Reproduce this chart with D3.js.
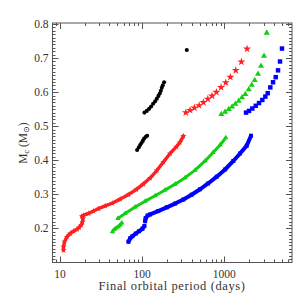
<!DOCTYPE html>
<html>
<head>
<meta charset="utf-8">
<script src="https://cdn.jsdelivr.net/npm/d3@7"></script>
<style>
body { margin: 0; background: #fff; }
</style>
</head>
<body>
<svg width="300" height="300"></svg>
<script>
// values: orbital period (days) and core mass (Msun)
var blackLowP = [86.9, 91.2, 94.6, 98.1, 102, 105.8, 110.9, 115.1];
var blackLowM = [0.430, 0.438, 0.445, 0.451, 0.457, 0.464, 0.469, 0.472];
var blackUpP = [106.6, 114, 121.6, 128.6, 136, 143.9, 151, 157.8, 164, 168.8, 173.5, 178.5, 185];
var blackUpM = [0.540, 0.545, 0.551, 0.558, 0.566, 0.573, 0.581, 0.589, 0.596, 0.604, 0.613, 0.620, 0.629];
var blackTopP = [349];
var blackTopM = [0.724];

var redLowAP = [11.06, 11.06, 11.37, 12.16, 13.34, 14.63, 16.1, 17.16, 18.15, 18.8, 19.04];
var redLowAM = [0.136, 0.146, 0.161, 0.175, 0.185, 0.192, 0.197, 0.203, 0.210, 0.219, 0.229];
var redLowBP = [18.5, 19.5, 22.3, 25.6, 29.4, 35.5, 43.2, 54, 67.6, 84.6, 102.8, 125, 150.9, 181.5, 218.8, 261.1, 287.1, 317.7];
var redLowBM = [0.236, 0.239, 0.244, 0.251, 0.258, 0.266, 0.274, 0.286, 0.299, 0.314, 0.330, 0.348, 0.370, 0.395, 0.420, 0.440, 0.452, 0.471];
var redUpP = [340, 383, 432, 493, 556, 629, 709, 800, 912, 1040, 1183, 1376, 1611, 1888];
var redUpM = [0.540, 0.547, 0.554, 0.561, 0.570, 0.580, 0.589, 0.600, 0.614, 0.628, 0.644, 0.664, 0.689, 0.727];

var greenLowAP = [43.6, 45.7, 48.3, 51.1, 54, 56.6];
var greenLowAM = [0.190, 0.197, 0.201, 0.205, 0.210, 0.216];
var greenLowBP = [50.7, 62.1, 82.2, 108.8, 143.9, 190.3, 251.8, 333, 440.5, 583, 729, 887, 1040];
var greenLowBM = [0.229, 0.244, 0.263, 0.280, 0.296, 0.313, 0.330, 0.349, 0.371, 0.398, 0.423, 0.445, 0.466];
var greenUpP = [919, 1020, 1131, 1241, 1360, 1496, 1641, 1799, 1979, 2153, 2340, 2567, 2793, 3037, 3275];
var greenUpM = [0.535, 0.542, 0.550, 0.557, 0.565, 0.574, 0.584, 0.594, 0.608, 0.621, 0.635, 0.653, 0.677, 0.706, 0.774];

var blueLowAP = [68.2, 71.5, 76.2, 83.8, 91.9, 100.8, 106.6];
var blueLowAM = [0.161, 0.171, 0.177, 0.185, 0.192, 0.199, 0.207];
var blueLowBP = [108.8, 110.3, 116.7, 125, 156.5, 199.5, 251.8, 317.7, 399.5, 506.7, 633.9, 808.7, 1020, 1285, 1551, 1871, 2110];
var blueLowBM = [0.221, 0.230, 0.238, 0.241, 0.251, 0.262, 0.273, 0.285, 0.299, 0.315, 0.332, 0.352, 0.373, 0.398, 0.420, 0.443, 0.472];
var blueUpP = [1835, 1995, 2188, 2407, 2640, 2895, 3150, 3367, 3622, 3906, 4212, 4493, 4750, 5024];
var blueUpM = [0.540, 0.545, 0.552, 0.560, 0.568, 0.577, 0.587, 0.597, 0.614, 0.629, 0.644, 0.664, 0.690, 0.728];

var xTickValues = [10, 100, 1000];
var yTickValues = [0.2, 0.3, 0.4, 0.5, 0.6, 0.7, 0.8];

var svg = d3.select('svg');
var plotLeft = 52.5, plotRight = 292, plotTop = 23, plotBottom = 262.5;

var x = d3.scaleLog().domain([8.13, 6646]).range([plotLeft, plotRight]);
var y = d3.scaleLinear().domain([0.1, 0.803]).range([plotBottom, plotTop]);

function pts(P, M) {
	return P.map(function(p, i) { return [p, M[i]]; });
}

var axisColor = '#555';
var fontFamily = '"Liberation Serif", "DejaVu Serif", serif';

// minor ticks
var xMinor = [];
[1, 10, 100, 1000].forEach(function(d) {
	for (var k = 2; k <= 9; k++) {
		var v = d * k;
		if (v > x.domain()[0] && v < x.domain()[1]) xMinor.push(v);
	}
});
var yMinor = d3.range(11, 80).map(function(d) { return d / 100; }).filter(function(v) { return Math.round(v * 100) % 10 != 0; });

var axes = svg.append('g').attr('stroke', axisColor).attr('stroke-width', 1);

// bottom and top ticks
xMinor.forEach(function(v) {
	var px = Math.round(x(v)) + 0.5;
	axes.append('line').attr('x1', px).attr('x2', px).attr('y1', plotBottom).attr('y2', plotBottom - 3);
	axes.append('line').attr('x1', px).attr('x2', px).attr('y1', plotTop).attr('y2', plotTop + 3);
});
xTickValues.forEach(function(v) {
	var px = Math.round(x(v)) + 0.5;
	axes.append('line').attr('x1', px).attr('x2', px).attr('y1', plotBottom).attr('y2', plotBottom - 6);
	axes.append('line').attr('x1', px).attr('x2', px).attr('y1', plotTop).attr('y2', plotTop + 6);
});
// left and right ticks
yMinor.forEach(function(v) {
	var py = Math.round(y(v)) + 0.5;
	axes.append('line').attr('x1', plotLeft).attr('x2', plotLeft + 3).attr('y1', py).attr('y2', py);
	axes.append('line').attr('x1', plotRight).attr('x2', plotRight - 3).attr('y1', py).attr('y2', py);
});
yTickValues.forEach(function(v) {
	var py = Math.round(y(v)) + 0.5;
	axes.append('line').attr('x1', plotLeft).attr('x2', plotLeft + 6).attr('y1', py).attr('y2', py);
	axes.append('line').attr('x1', plotRight).attr('x2', plotRight - 6).attr('y1', py).attr('y2', py);
});

axes.append('rect')
	.attr('x', plotLeft).attr('y', plotTop)
	.attr('width', plotRight - plotLeft).attr('height', plotBottom - plotTop)
	.attr('fill', 'none');

// tick labels
svg.append('g').selectAll('text').data(xTickValues).enter().append('text')
	.attr('x', function(d) { return x(d); })
	.attr('y', 278)
	.attr('text-anchor', 'middle')
	.attr('font-family', fontFamily)
	.attr('font-size', 11.5)
	.attr('fill', '#333')
	.text(function(d) { return d; });

svg.append('g').selectAll('text').data(yTickValues).enter().append('text')
	.attr('x', 48.5)
	.attr('y', function(d) { return y(d) + 4; })
	.attr('text-anchor', 'end')
	.attr('font-family', fontFamily)
	.attr('font-size', 11.5)
	.attr('fill', '#333')
	.text(function(d) { return d.toFixed(1); });

svg.append('text')
	.attr('x', 172)
	.attr('y', 290)
	.attr('text-anchor', 'middle')
	.attr('font-family', fontFamily)
	.attr('font-size', 12.5)
	.attr('letter-spacing', 0.6)
	.attr('fill', '#333')
	.text('Final orbital period (days)');

var ylab = svg.append('text')
	.attr('transform', 'translate(27,143) rotate(-90)')
	.attr('text-anchor', 'middle')
	.attr('font-family', fontFamily)
	.attr('font-size', 11.5)
	.attr('fill', '#333');
ylab.append('tspan').text('M');
ylab.append('tspan').attr('font-size', 8).attr('dy', 2).text('c');
ylab.append('tspan').attr('dy', -2).text(' (M');
ylab.append('tspan').attr('font-size', 8).attr('dy', 2).text('\u2299');
ylab.append('tspan').attr('dy', -2).text(')');

// dense chains drawn as a band of markers
var line = d3.line().x(function(d) { return x(d[0]); }).y(function(d) { return y(d[1]); });

function band(P, M, color, w) {
	svg.append('path')
		.attr('d', line(pts(P, M)))
		.attr('fill', 'none')
		.attr('stroke', color)
		.attr('stroke-width', w)
		.attr('stroke-linejoin', 'round')
		.attr('stroke-linecap', 'round');
}

function marks(P, M, symbol, size, color) {
	var sym = d3.symbol().type(symbol).size(size);
	svg.append('g').selectAll('path').data(pts(P, M)).enter().append('path')
		.attr('transform', function(d) { return 'translate(' + x(d[0]) + ',' + y(d[1]) + ')'; })
		.attr('d', sym)
		.attr('fill', color);
}

var red = '#ff2020', green = '#10d010', blue = '#0000ff', black = '#000';

band(redLowAP, redLowAM, red, 3.4);
band(redLowBP, redLowBM, red, 3.4);
band(greenLowAP, greenLowAM, green, 3);
band(greenLowBP, greenLowBM, green, 3);
band(blueLowAP, blueLowAM, blue, 4);
band(blueLowBP, blueLowBM, blue, 4);

marks(blackLowP, blackLowM, d3.symbolCircle, 13, black);
marks(blackUpP, blackUpM, d3.symbolCircle, 13, black);
marks(blackTopP, blackTopM, d3.symbolCircle, 13, black);
marks(redLowAP, redLowAM, d3.symbolStar, 12, red);
marks(redLowBP, redLowBM, d3.symbolStar, 12, red);
marks(redUpP, redUpM, d3.symbolStar, 20, red);
marks(greenLowAP, greenLowAM, d3.symbolTriangle, 12, green);
marks(greenLowBP, greenLowBM, d3.symbolTriangle, 12, green);
marks(greenUpP, greenUpM, d3.symbolTriangle, 16, green);
marks(blueLowAP, blueLowAM, d3.symbolSquare, 16, blue);
marks(blueLowBP, blueLowBM, d3.symbolSquare, 16, blue);
marks(blueUpP, blueUpM, d3.symbolSquare, 20, blue);
</script>
</body>
</html>
